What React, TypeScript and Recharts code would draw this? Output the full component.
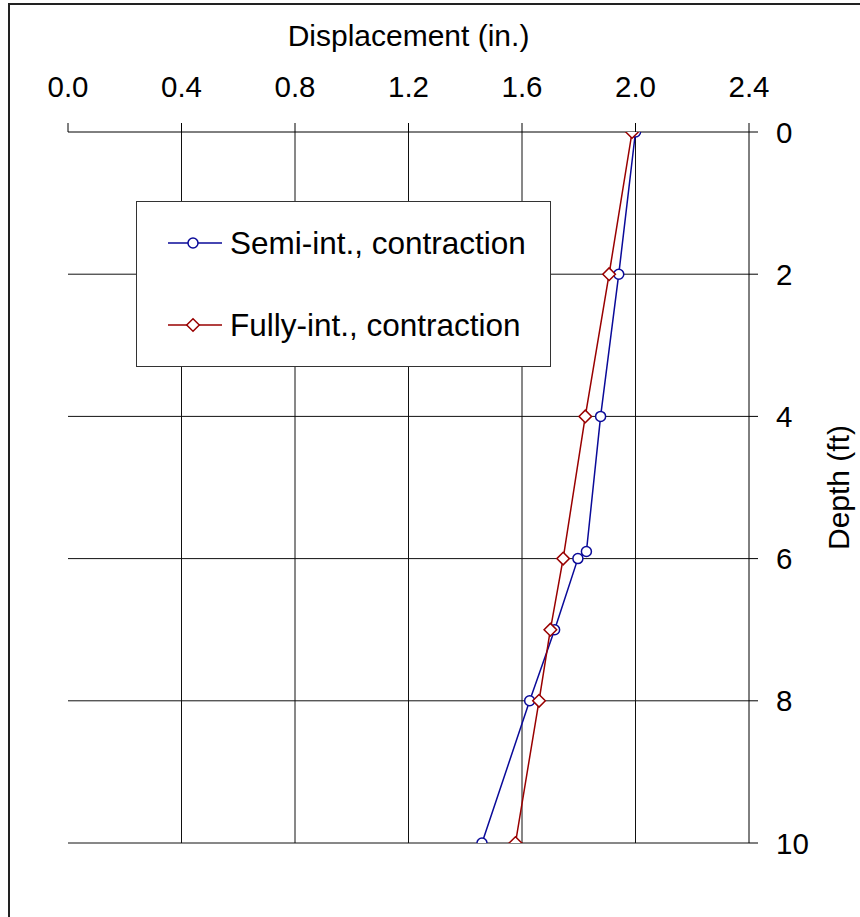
import React from 'react';
import { ScatterChart, Scatter, XAxis, YAxis, ReferenceLine, Legend, Label } from 'recharts';

const semiDepth = [0, 2, 4, 5.9, 6, 7, 8, 10];
const semiDisp = [2.0, 1.941, 1.877, 1.827, 1.797, 1.715, 1.627, 1.459];
const fullyDepth = [0, 2, 4, 6, 7, 8, 10];
const fullyDisp = [1.988, 1.907, 1.823, 1.745, 1.7, 1.66, 1.577];
const xTicks = [0, 0.4, 0.8, 1.2, 1.6, 2.0, 2.4];
const yTicks = [0, 2, 4, 6, 8, 10];
const xGrid = [0.4, 0.8, 1.2, 1.6, 2.0];
const yGrid = [2, 4, 6, 8, 10];
const seriesNames = ['Semi-int., contraction', 'Fully-int., contraction'];

const BLUE = '#0a0a99';
const RED = '#990000';
const FONT = '"Liberation Sans", Arial, sans-serif';

const semiData = semiDepth.map((d, i) => ({ disp: semiDisp[i], depth: d }));
const fullyData = fullyDepth.map((d, i) => ({ disp: fullyDisp[i], depth: d }));

const CircleShape = (p: any) => (
  <circle cx={p.cx} cy={p.cy} r={5} fill="#fff" stroke={BLUE} strokeWidth={1.5} />
);
const DiamondShape = (p: any) => (
  <path
    d={`M${p.cx},${p.cy - 6.3}L${p.cx + 6.3},${p.cy}L${p.cx},${p.cy + 6.3}L${p.cx - 6.3},${p.cy}Z`}
    fill="#fff"
    stroke={RED}
    strokeWidth={1.5}
  />
);

const XTick = (p: any) => (
  <text x={p.x} y={97} textAnchor="middle" fontSize={29.5} fontFamily={FONT} fill="#000">
    {Number(p.payload.value).toFixed(1)}
  </text>
);
const YTick = (p: any) => (
  <text x={p.x + 16} y={p.y} dy="0.36em" textAnchor="start" fontSize={29.5} fontFamily={FONT} fill="#000">
    {p.payload.value}
  </text>
);

const renderLegend = () => (
  <div
    style={{
      position: 'relative',
      width: 415,
      height: 166,
      border: '1px solid #333',
      background: '#fff',
      boxSizing: 'border-box',
      fontFamily: FONT,
    }}
  >
    {seriesNames.map((name, i) => (
      <div
        key={name}
        style={{
          position: 'absolute',
          left: 31,
          top: (i === 0 ? 41 : 123) - 20,
          height: 40,
          display: 'flex',
          alignItems: 'center',
          whiteSpace: 'nowrap',
        }}
      >
        <svg width={54} height={16} style={{ display: 'block' }}>
          <line x1={0} y1={8} x2={54} y2={8} stroke={i === 0 ? BLUE : RED} strokeWidth={1.5} />
          {i === 0 ? (
            <circle cx={25} cy={8} r={5} fill="#fff" stroke={BLUE} strokeWidth={1.5} />
          ) : (
            <path d="M25,1.7L31.3,8L25,14.3L18.7,8Z" fill="#fff" stroke={RED} strokeWidth={1.5} />
          )}
        </svg>
        <span style={{ marginLeft: 8, fontSize: 31.5, color: '#000', lineHeight: '40px' }}>{name}</span>
      </div>
    ))}
  </div>
);

export default function App() {
  return (
    <div style={{ position: 'absolute', left: 0, top: 0, width: 860, height: 917, overflow: 'hidden', background: '#fff' }}>
      <div
        style={{
          position: 'absolute',
          left: 8,
          top: 3,
          width: 900,
          height: 950,
          border: '2px solid #222',
          boxSizing: 'border-box',
        }}
      />
      <div style={{ position: 'absolute', left: 0, top: 0 }}>
        <ScatterChart width={860} height={917} margin={{ top: 0, left: 68, right: 0, bottom: 74 }}>
          {xGrid.map((v) => (
            <ReferenceLine key={'x' + v} x={v} stroke="#111" strokeWidth={1} zIndex={-50} />
          ))}
          {yGrid.map((v) => (
            <ReferenceLine key={'y' + v} y={v} stroke="#111" strokeWidth={1} zIndex={-50} />
          ))}
          <XAxis
            type="number"
            dataKey="disp"
            orientation="top"
            domain={[0, 2.4]}
            ticks={xTicks}
            height={132}
            tickSize={9}
            axisLine={{ stroke: '#000' }}
            tickLine={{ stroke: '#000' }}
            tick={<XTick />}
            interval={0}
            allowDataOverflow
          >
            <Label
              content={(props: any) => {
                const vb = props.viewBox || {};
                return (
                  <text x={vb.x + vb.width / 2} y={vb.y + 46} textAnchor="middle" fontSize={30} fontFamily={FONT} fill="#000">
                    Displacement (in.)
                  </text>
                );
              }}
            />
          </XAxis>
          <YAxis
            type="number"
            dataKey="depth"
            orientation="right"
            reversed
            domain={[0, 10]}
            ticks={yTicks}
            width={111}
            tickSize={9}
            axisLine={{ stroke: '#000' }}
            tickLine={{ stroke: '#000' }}
            tick={<YTick />}
            interval={0}
            allowDataOverflow
          >
            <Label
              content={(props: any) => {
                const vb = props.viewBox || {};
                const cx = vb.x + 89;
                const cy = vb.y + vb.height / 2;
                return (
                  <text
                    x={cx}
                    y={cy}
                    dy="0.36em"
                    textAnchor="middle"
                    fontSize={30}
                    fontFamily={FONT}
                    fill="#000"
                    transform={`rotate(-90, ${cx}, ${cy})`}
                  >
                    Depth (ft)
                  </text>
                );
              }}
            />
          </YAxis>
          <Legend
            layout="vertical"
            align="center"
            verticalAlign="middle"
            content={renderLegend}
            wrapperStyle={{ position: 'absolute', left: 136, top: 201, width: 415, height: 166 }}
          />
          <Scatter
            name={seriesNames[0]}
            data={semiData}
            line={{ stroke: BLUE, strokeWidth: 1.5 }}
            lineType="joint"
            shape={CircleShape}
            fill={BLUE}
            isAnimationActive={false}
          />
          <Scatter
            name={seriesNames[1]}
            data={fullyData}
            line={{ stroke: RED, strokeWidth: 1.5 }}
            lineType="joint"
            shape={DiamondShape}
            fill={RED}
            isAnimationActive={false}
          />
        </ScatterChart>
      </div>
    </div>
  );
}
